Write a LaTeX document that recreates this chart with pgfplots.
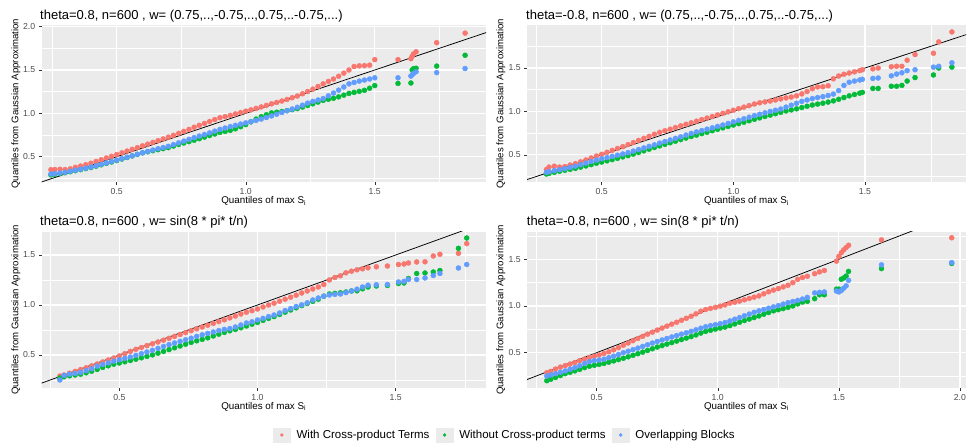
\documentclass[border=0pt]{standalone}
\usepackage{pgfplots}
\pgfplotsset{compat=1.18}
\usepackage{pgfplotstable}
\usepackage{fontspec}
\setmainfont{Liberation Sans}
\definecolor{ggbg}{HTML}{EBEBEB}
\definecolor{ggred}{HTML}{F8766D}
\definecolor{gggreen}{HTML}{00BA38}
\definecolor{ggblue}{HTML}{619CFF}
\definecolor{ggtick}{HTML}{4D4D4D}
\definecolor{ggtickline}{HTML}{333333}

\pgfplotstableread{
x r g b
0.245 0.350 0.290 0.300
0.26 0.352 0.296 0.305
0.28 0.355 0.305 0.312
0.30 0.352 0.315 0.320
0.32 0.360 0.327 0.332
0.34 0.378 0.339 0.344
0.36 0.392 0.351 0.356
0.38 0.408 0.363 0.368
0.40 0.425 0.375 0.380
0.42 0.445 0.391 0.396
0.44 0.465 0.407 0.412
0.46 0.485 0.423 0.428
0.48 0.505 0.439 0.444
0.50 0.525 0.455 0.460
0.52 0.545 0.473 0.477
0.54 0.565 0.491 0.494
0.56 0.585 0.509 0.511
0.58 0.605 0.527 0.528
0.60 0.625 0.545 0.545
0.62 0.645 0.557 0.561
0.64 0.665 0.569 0.577
0.66 0.685 0.581 0.592
0.68 0.705 0.593 0.606
0.70 0.725 0.605 0.620
0.72 0.747 0.623 0.640
0.74 0.769 0.641 0.660
0.76 0.792 0.658 0.680
0.78 0.815 0.674 0.700
0.80 0.840 0.690 0.720
0.82 0.862 0.708 0.738
0.84 0.884 0.726 0.756
0.86 0.906 0.744 0.775
0.88 0.928 0.762 0.795
0.90 0.950 0.780 0.815
0.92 0.962 0.792 0.831
0.94 0.976 0.804 0.847
0.96 0.993 0.822 0.862
0.98 1.009 0.846 0.876
1.00 1.025 0.870 0.890
1.02 1.040 0.902 0.904
1.04 1.057 0.934 0.918
1.06 1.074 0.962 0.934
1.08 1.092 0.984 0.952
1.10 1.110 1.005 0.970
1.12 1.126 1.013 0.990
1.14 1.142 1.021 1.010
1.16 1.160 1.031 1.030
1.18 1.180 1.043 1.050
1.20 1.200 1.055 1.070
1.22 1.226 1.073 1.094
1.24 1.252 1.091 1.118
1.26 1.279 1.110 1.138
1.28 1.310 1.130 1.154
1.30 1.340 1.150 1.170
1.32 1.368 1.162 1.202
1.34 1.396 1.174 1.234
1.36 1.428 1.190 1.268
1.38 1.464 1.210 1.304
1.40 1.500 1.230 1.340
1.42 1.540 1.242 1.356
1.44 1.548 1.254 1.372
1.46 1.550 1.266 1.384
1.48 1.556 1.290 1.396
1.50 1.620 1.320 1.410
1.59 1.620 1.345 1.410
1.64 1.630 1.350 1.430
1.645 1.660 1.500 1.445
1.65 1.685 1.515 1.460
1.66 1.710 1.520 1.480
1.74 1.815 1.545 1.470
1.85 1.925 1.670 1.517
}\tA

\pgfplotstableread{
x r g b
0.29 0.333 0.280 0.300
0.30 0.360 0.287 0.307
0.32 0.370 0.300 0.320
0.34 0.360 0.312 0.330
0.36 0.366 0.323 0.342
0.38 0.384 0.334 0.356
0.40 0.400 0.345 0.370
0.42 0.420 0.359 0.388
0.44 0.442 0.373 0.406
0.46 0.465 0.388 0.424
0.48 0.487 0.404 0.440
0.50 0.507 0.418 0.455
0.52 0.530 0.432 0.469
0.54 0.552 0.446 0.483
0.56 0.574 0.461 0.497
0.58 0.595 0.477 0.511
0.60 0.619 0.492 0.526
0.62 0.643 0.510 0.544
0.64 0.667 0.528 0.562
0.66 0.690 0.547 0.580
0.68 0.714 0.566 0.598
0.70 0.738 0.585 0.616
0.72 0.760 0.604 0.636
0.74 0.778 0.622 0.654
0.76 0.796 0.640 0.672
0.78 0.815 0.658 0.690
0.80 0.834 0.676 0.708
0.82 0.852 0.694 0.728
0.84 0.870 0.712 0.747
0.86 0.888 0.728 0.764
0.88 0.906 0.745 0.780
0.90 0.924 0.761 0.796
0.92 0.942 0.778 0.812
0.94 0.960 0.794 0.828
0.96 0.978 0.811 0.844
0.98 0.996 0.828 0.862
1.00 1.014 0.844 0.880
1.02 1.032 0.860 0.898
1.04 1.050 0.876 0.916
1.06 1.068 0.893 0.934
1.08 1.086 0.910 0.952
1.10 1.100 0.926 0.968
1.12 1.110 0.942 0.984
1.14 1.120 0.958 1.000
1.16 1.132 0.974 1.014
1.18 1.144 0.990 1.028
1.20 1.156 1.006 1.050
1.22 1.166 1.018 1.072
1.24 1.180 1.030 1.094
1.26 1.202 1.045 1.116
1.28 1.230 1.060 1.132
1.30 1.262 1.074 1.148
1.32 1.282 1.085 1.160
1.34 1.284 1.095 1.170
1.36 1.296 1.108 1.184
1.38 1.376 1.122 1.200
1.40 1.408 1.140 1.240
1.42 1.428 1.160 1.300
1.44 1.442 1.180 1.336
1.46 1.456 1.195 1.350
1.48 1.470 1.210 1.362
1.49 1.480 1.220 1.370
1.53 1.490 1.265 1.380
1.55 1.500 1.265 1.385
1.60 1.515 1.290 1.410
1.62 1.520 1.290 1.430
1.64 1.520 1.300 1.445
1.66 1.590 1.350 1.470
1.69 1.655 1.390 1.480
1.76 1.670 1.420 1.510
1.78 1.800 1.500 1.520
1.83 1.915 1.510 1.560
}\tB

\pgfplotstableread{
x r g b
0.285 0.290 0.270 0.250
0.30 0.300 0.282 0.295
0.32 0.318 0.292 0.308
0.34 0.336 0.300 0.316
0.36 0.354 0.308 0.326
0.38 0.372 0.322 0.344
0.40 0.391 0.338 0.362
0.42 0.410 0.356 0.388
0.44 0.430 0.376 0.405
0.46 0.450 0.392 0.421
0.48 0.470 0.408 0.438
0.50 0.490 0.420 0.452
0.52 0.513 0.432 0.466
0.54 0.536 0.445 0.480
0.56 0.557 0.458 0.496
0.58 0.575 0.472 0.513
0.60 0.594 0.486 0.530
0.62 0.612 0.501 0.547
0.64 0.630 0.518 0.566
0.66 0.648 0.536 0.585
0.68 0.667 0.554 0.604
0.70 0.686 0.572 0.620
0.72 0.705 0.590 0.636
0.74 0.724 0.608 0.652
0.76 0.743 0.626 0.668
0.78 0.762 0.642 0.686
0.80 0.780 0.656 0.702
0.82 0.798 0.672 0.716
0.84 0.816 0.690 0.730
0.86 0.834 0.708 0.744
0.88 0.852 0.726 0.756
0.90 0.871 0.742 0.764
0.92 0.890 0.756 0.780
0.94 0.910 0.772 0.800
0.96 0.928 0.790 0.820
0.98 0.943 0.808 0.832
1.00 0.960 0.826 0.850
1.02 0.980 0.846 0.866
1.04 1.000 0.866 0.884
1.06 1.018 0.884 0.900
1.08 1.038 0.905 0.920
1.10 1.058 0.928 0.944
1.12 1.078 0.950 0.964
1.14 1.098 0.972 0.985
1.16 1.120 0.994 1.002
1.18 1.140 1.015 1.022
1.20 1.160 1.036 1.050
1.22 1.180 1.058 1.070
1.24 1.205 1.088 1.088
1.26 1.250 1.110 1.100
1.28 1.275 1.116 1.106
1.30 1.292 1.122 1.110
1.32 1.322 1.130 1.124
1.34 1.338 1.140 1.140
1.36 1.352 1.142 1.158
1.38 1.362 1.162 1.180
1.40 1.372 1.180 1.198
1.43 1.382 1.190 1.202
1.47 1.390 1.195 1.205
1.51 1.405 1.215 1.230
1.53 1.410 1.220 1.236
1.546 1.420 1.265 1.255
1.576 1.430 1.315 1.255
1.606 1.432 1.320 1.270
1.636 1.490 1.330 1.295
1.66 1.507 1.345 1.315
1.727 1.517 1.567 1.370
1.757 1.614 1.670 1.405
}\tC

\pgfplotstableread{
x r g b
0.294 0.286 0.200 0.250
0.31 0.300 0.215 0.262
0.33 0.325 0.235 0.275
0.35 0.345 0.255 0.290
0.37 0.362 0.275 0.305
0.39 0.378 0.290 0.322
0.41 0.395 0.305 0.340
0.43 0.415 0.322 0.360
0.45 0.432 0.340 0.385
0.47 0.448 0.355 0.405
0.49 0.462 0.365 0.415
0.51 0.476 0.375 0.422
0.53 0.492 0.385 0.430
0.55 0.510 0.398 0.446
0.57 0.530 0.412 0.462
0.59 0.554 0.426 0.480
0.61 0.580 0.440 0.500
0.63 0.604 0.456 0.516
0.65 0.628 0.472 0.532
0.67 0.652 0.489 0.549
0.69 0.675 0.506 0.567
0.71 0.698 0.524 0.585
0.73 0.720 0.542 0.603
0.75 0.742 0.560 0.620
0.77 0.763 0.576 0.636
0.79 0.784 0.592 0.652
0.81 0.805 0.608 0.668
0.83 0.826 0.624 0.683
0.85 0.847 0.640 0.698
0.87 0.868 0.656 0.713
0.89 0.890 0.672 0.728
0.91 0.916 0.690 0.745
0.93 0.944 0.710 0.762
0.95 0.962 0.728 0.778
0.97 0.974 0.740 0.790
0.99 0.985 0.752 0.800
1.01 0.998 0.764 0.810
1.03 1.012 0.774 0.822
1.05 1.030 0.790 0.840
1.07 1.040 0.808 0.858
1.09 1.052 0.826 0.876
1.11 1.066 0.844 0.895
1.13 1.080 0.860 0.913
1.15 1.094 0.876 0.932
1.17 1.108 0.893 0.948
1.19 1.130 0.912 0.962
1.21 1.152 0.930 0.976
1.23 1.170 0.948 0.990
1.25 1.186 0.960 1.004
1.27 1.204 0.972 1.020
1.29 1.222 0.985 1.036
1.31 1.250 1.000 1.048
1.33 1.285 1.022 1.060
1.35 1.305 1.042 1.074
1.37 1.318 1.050 1.092
1.40 1.345 1.078 1.140
1.42 1.365 1.120 1.146
1.44 1.380 1.120 1.150
1.49 1.480 1.180 1.160
1.50 1.530 1.180 1.150
1.51 1.570 1.286 1.165
1.52 1.600 1.300 1.190
1.53 1.625 1.320 1.215
1.54 1.650 1.370 1.275
1.676 1.707 1.400 1.440
1.966 1.730 1.455 1.465
}\tD

\pgfplotsset{
  ggpanel/.style={
    scale only axis,
    axis background/.style={fill=ggbg},
    axis line style={draw=none},
    grid=both,
    major grid style={draw=white, line width=1.1pt},
    minor grid style={draw=white, line width=0.55pt},
    tick align=outside,
    tick pos=left,
    major tick length=2.75pt,
    minor tick length=0pt,
    tick style={color=ggtickline, line width=0.5pt},
    tick label style={font=\fontsize{8.7}{10}\selectfont, text=ggtick},
    /pgf/number format/fixed,
    /pgf/number format/fixed zerofill,
    /pgf/number format/precision=1,
    /pgf/number format/assume math mode=true,
    xtick={0.5,1,1.5,2},
    ytick={0.5,1,1.5,2},
    minor xtick={0.25,0.75,1.25,1.75},
    minor ytick={0.25,0.75,1.25,1.75},
  },
  ggr/.style={only marks, mark=*, mark size=2.5pt, color=ggred, mark options={draw=none}},
  ggg/.style={only marks, mark=*, mark size=2.5pt, color=gggreen, mark options={draw=none}},
  ggb/.style={only marks, mark=*, mark size=2.5pt, color=ggblue, mark options={draw=none}},
  ggline/.style={black, line width=0.75pt, forget plot},
}

\begin{document}
\begin{tikzpicture}
\useasboundingbox (0,0) rectangle (967pt,444pt);

% Panel 1
\begin{axis}[ggpanel, at={(41.5pt,261.7pt)}, anchor=south west,
  width=444.5pt, height=157.3pt,
  xmin=0.2085, xmax=1.931, ymin=0.205, ymax=2.019]
\addplot[ggr] table[x=x,y=r]{\tA};
\addplot[ggg] table[x=x,y=g]{\tA};
\addplot[ggb] table[x=x,y=b]{\tA};
\addplot[ggline] coordinates {(0,0) (2.2,2.2)};
\end{axis}

% Panel 2
\begin{axis}[ggpanel, at={(527pt,261.7pt)}, anchor=south west,
  width=439pt, height=157.3pt,
  xmin=0.2163, xmax=1.8836, ymin=0.185, ymax=1.995]
\addplot[ggr] table[x=x,y=r]{\tB};
\addplot[ggg] table[x=x,y=g]{\tB};
\addplot[ggb] table[x=x,y=b]{\tB};
\addplot[ggline] coordinates {(0,0) (2.2,2.2)};
\end{axis}

% Panel 3
\begin{axis}[ggpanel, at={(41.5pt,56pt)}, anchor=south west,
  width=444.5pt, height=156.3pt,
  xmin=0.2185, xmax=1.8267, ymin=0.17, ymax=1.733]
\addplot[ggr] table[x=x,y=r]{\tC};
\addplot[ggg] table[x=x,y=g]{\tC};
\addplot[ggb] table[x=x,y=b]{\tC};
\addplot[ggline] coordinates {(0,0) (2.2,2.2)};
\end{axis}

% Panel 4
\begin{axis}[ggpanel, at={(527pt,56pt)}, anchor=south west,
  width=439pt, height=156.3pt,
  xmin=0.2122, xmax=2.025, ymin=0.122, ymax=1.795,
  legend columns=3,
  legend style={draw=none, fill=none, at={(axis description cs:-0.5786,-0.3007)}, anchor=west,
    inner sep=0pt, font=\fontsize{11.5}{13}\selectfont,
    /tikz/every odd column/.append style={column sep=6pt},
    /tikz/every even column/.append style={column sep=6.4pt},
    nodes={inner sep=0pt, text=black}},
  legend cell align=left,
  legend image code/.code={\fill[ggbg] (0pt,-7pt) rectangle (17pt,7pt);
    \draw[#1, mark size=1.5pt] plot coordinates {(8.5pt,0pt)};}]
\addplot[ggr] table[x=x,y=r]{\tD};
\addlegendentry{With Cross-product Terms}
\addplot[ggg] table[x=x,y=g]{\tD};
\addlegendentry{Without Cross-product terms}
\addplot[ggb] table[x=x,y=b]{\tD};
\addlegendentry{Overlapping Blocks}
\addplot[ggline] coordinates {(0,0) (2.2,2.2)};
\end{axis}

% Titles
\node[anchor=west, inner sep=0pt, font=\fontsize{13}{15}\selectfont] at (40pt,428.3pt) {theta=0.8, n=600 , w= (0.75,..,-0.75,..,0.75,..-0.75,...)};
\node[anchor=west, inner sep=0pt, font=\fontsize{13}{15}\selectfont] at (526pt,428.3pt) {theta=-0.8, n=600 , w= (0.75,..,-0.75,..,0.75,..-0.75,...)};
\node[anchor=west, inner sep=0pt, font=\fontsize{13}{15}\selectfont] at (40pt,222.3pt) {theta=0.8, n=600 , w= sin(8 * pi* t/n)};
\node[anchor=west, inner sep=0pt, font=\fontsize{13}{15}\selectfont] at (526.7pt,222.3pt) {theta=-0.8, n=600 , w= sin(8 * pi* t/n)};

% x labels
\node[inner sep=0pt, font=\fontsize{9.8}{11}\selectfont] at (263.75pt,242.8pt) {Quantiles of max S\textsubscript{i}};
\node[inner sep=0pt, font=\fontsize{9.8}{11}\selectfont] at (746.5pt,242.8pt) {Quantiles of max S\textsubscript{i}};
\node[inner sep=0pt, font=\fontsize{9.8}{11}\selectfont] at (263.75pt,37.6pt) {Quantiles of max S\textsubscript{i}};
\node[inner sep=0pt, font=\fontsize{9.8}{11}\selectfont] at (746.5pt,37.6pt) {Quantiles of max S\textsubscript{i}};

% y labels
\node[rotate=90, inner sep=0pt, font=\fontsize{9.6}{11}\selectfont] at (16pt,340.3pt) {Quantiles from Gaussian Approximation};
\node[rotate=90, inner sep=0pt, font=\fontsize{9.6}{11}\selectfont] at (501pt,340.3pt) {Quantiles from Gaussian Approximation};
\node[rotate=90, inner sep=0pt, font=\fontsize{9.6}{11}\selectfont] at (16pt,134pt) {Quantiles from Gaussian Approximation};
\node[rotate=90, inner sep=0pt, font=\fontsize{9.6}{11}\selectfont] at (501pt,134pt) {Quantiles from Gaussian Approximation};
\end{tikzpicture}
\end{document}
